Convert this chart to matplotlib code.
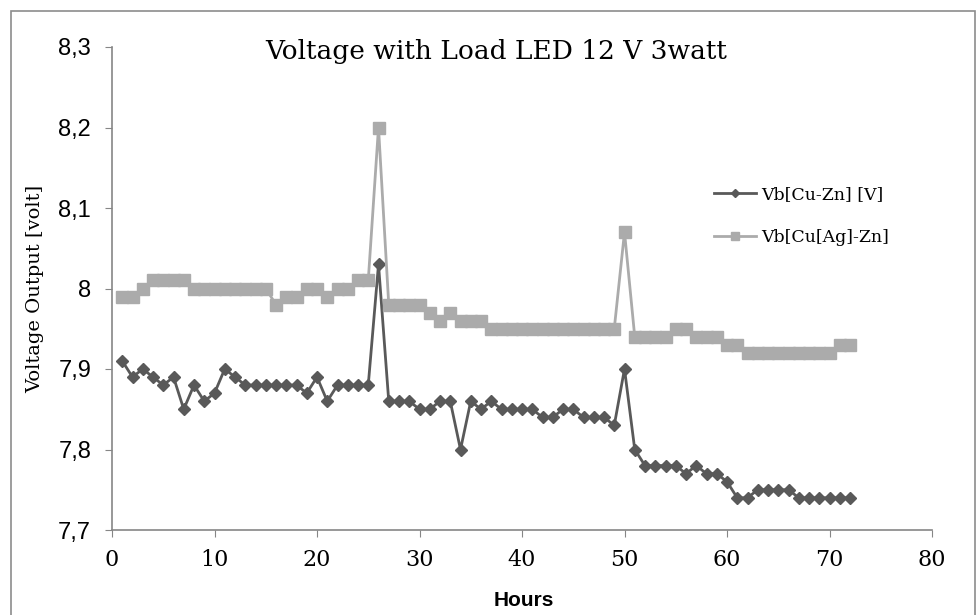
import numpy as np
import matplotlib.pyplot as plt

hours = list(range(1, 73))

vb_cu_zn = [7.91, 7.89, 7.90, 7.89, 7.88, 7.89, 7.85, 7.88, 7.86, 7.87,
            7.90, 7.89, 7.88, 7.88, 7.88, 7.88, 7.88, 7.88, 7.87, 7.89,
            7.86, 7.88, 7.88, 7.88, 7.88, 8.03, 7.86, 7.86, 7.86, 7.85,
            7.85, 7.86, 7.86, 7.80, 7.86, 7.85, 7.86, 7.85, 7.85, 7.85,
            7.85, 7.84, 7.84, 7.85, 7.85, 7.84, 7.84, 7.84, 7.83, 7.90,
            7.80, 7.78, 7.78, 7.78, 7.78, 7.77, 7.78, 7.77, 7.77, 7.76,
            7.74, 7.74, 7.75, 7.75, 7.75, 7.75, 7.74, 7.74, 7.74, 7.74,
            7.74, 7.74]

vb_cu_ag_zn = [7.99, 7.99, 8.00, 8.01, 8.01, 8.01, 8.01, 8.00, 8.00, 8.00,
               8.00, 8.00, 8.00, 8.00, 8.00, 7.98, 7.99, 7.99, 8.00, 8.00,
               7.99, 8.00, 8.00, 8.01, 8.01, 8.20, 7.98, 7.98, 7.98, 7.98,
               7.97, 7.96, 7.97, 7.96, 7.96, 7.96, 7.95, 7.95, 7.95, 7.95,
               7.95, 7.95, 7.95, 7.95, 7.95, 7.95, 7.95, 7.95, 7.95, 8.07,
               7.94, 7.94, 7.94, 7.94, 7.95, 7.95, 7.94, 7.94, 7.94, 7.93,
               7.93, 7.92, 7.92, 7.92, 7.92, 7.92, 7.92, 7.92, 7.92, 7.92,
               7.93, 7.93]

y_ticks = [7.7, 7.8, 7.9, 8.0, 8.1, 8.2, 8.3]
y_tick_labels = ['7,7', '7,8', '7,9', '8', '8,1', '8,2', '8,3']
x_ticks = [0, 10, 20, 30, 40, 50, 60, 70, 80]

sans = ['Liberation Sans', 'DejaVu Sans']
serif = ['DejaVu Serif']

fig = plt.figure(figsize=(9.78, 6.15), dpi=100)
ax = fig.add_axes([112 / 978, 1 - 530 / 615, 820 / 978, 483 / 615])

ax.plot(hours, vb_cu_zn, color='#595959', lw=2, marker='D', ms=6.5,
        label='Vb[Cu-Zn] [V]')
ax.plot(hours, vb_cu_ag_zn, color='#ababab', lw=2, marker='s', ms=9,
        label='Vb[Cu[Ag]-Zn]')

ax.set_xlim(0, 80)
ax.set_ylim(7.7, 8.3)
ax.set_xticks(x_ticks)
ax.set_xticklabels([str(t) for t in x_ticks], family=serif, fontsize=16)
ax.set_yticks(y_ticks)
ax.set_yticklabels(y_tick_labels, family=sans, fontsize=17)
ax.tick_params(direction='out', length=5, color='#868686')
ax.tick_params(axis='x', pad=9)
ax.tick_params(axis='y', pad=10)

for s in ['top', 'right']:
    ax.spines[s].set_visible(False)
for s in ['left', 'bottom']:
    ax.spines[s].set_color('#868686')
    ax.spines[s].set_linewidth(1.2)

ax.set_ylabel('Voltage Output [volt]', family=serif, fontsize=14, labelpad=10)
fig.text(0.536, 1 - 601 / 615, 'Hours', family=sans, fontsize=15,
         fontweight='bold', ha='center', va='center')

fig.text(0.507, 1 - 52 / 615, 'Voltage with Load LED 12 V 3watt',
         family=serif, fontsize=19, ha='center', va='center')

leg = ax.legend(loc='upper left', bbox_to_anchor=(0.715, 0.745), frameon=False,
                prop={'family': serif, 'size': 12.5}, handlelength=2.4,
                handletextpad=0.3, labelspacing=1.5, markerscale=0.6)

# chart border like excel
border = plt.Rectangle((11 / 978, -0.01), (975 - 11) / 978, 1 - 11 / 615 + 0.01,
                       transform=fig.transFigure, fill=False,
                       edgecolor='#8c8c8c', lw=1.2)
fig.patches.append(border)

fig.savefig('out.png', dpi=100)
